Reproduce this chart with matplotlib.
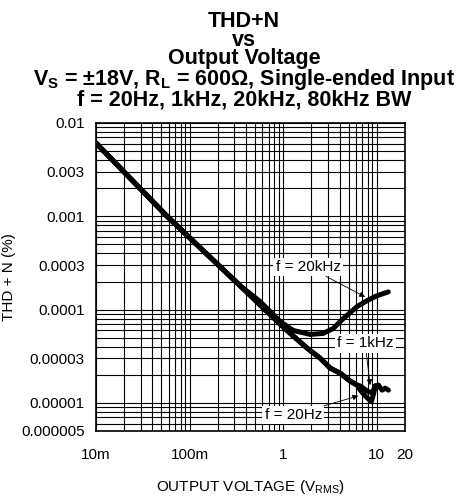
import matplotlib
matplotlib.use('Agg')
import matplotlib.pyplot as plt
import numpy as np

plt.rcParams['font.family'] = ['Liberation Sans', 'DejaVu Sans']
plt.rcParams['mathtext.fontset'] = 'custom'
plt.rcParams['mathtext.rm'] = 'Liberation Sans'
plt.rcParams['mathtext.bf'] = 'Liberation Sans:bold'

# THD+N (%) vs output voltage (Vrms)
v_20k = [0.01, 0.0575, 0.347, 0.567, 0.93, 1.28, 1.95, 2.68, 3.43, 4.38, 6.18, 7.9, 10.1, 13.3]
thd_20k = [0.0061, 0.001, 0.00018, 0.000122, 0.0000745, 0.0000598, 0.0000542, 0.0000556,
           0.0000628, 0.00008, 0.000108, 0.000125, 0.000141, 0.000155]

v_1k = [0.01, 0.0575, 0.347, 0.567, 0.93, 1.19, 1.81, 2.49, 3.18, 4.07, 5.21, 6.18, 6.66,
        7.9, 8.95, 9.64, 10.4, 11.4, 12.3, 13.3]
thd_1k = [0.0061, 0.001, 0.00018, 0.000112, 0.0000700, 0.0000556, 0.0000385, 0.0000301,
          0.0000236, 0.0000208, 0.0000171, 0.0000155, 0.0000152, 0.0000134, 0.0000128,
          0.0000152, 0.0000155, 0.0000137, 0.0000144, 0.0000137]

v_20 = [0.01, 0.0575, 0.347, 0.567, 0.93, 1.19, 1.81, 2.49, 3.18, 4.07, 5.21, 6.18, 6.66,
        7.53, 8.73, 9.19, 9.64, 10.4]
thd_20 = [0.0061, 0.001, 0.00018, 0.000112, 0.0000700, 0.0000556, 0.0000385, 0.0000301,
          0.0000236, 0.0000208, 0.0000171, 0.0000155, 0.0000137, 0.0000119, 0.0000103,
          0.0000122, 0.0000152, 0.0000155]

xticks = [0.01, 0.1, 1, 10, 20]
xlabels = ['10m', '100m', '1', '10', '20']
yticks = [0.01, 0.003, 0.001, 0.0003, 0.0001, 0.00003, 0.00001, 0.000005]
ylabels = ['0.01', '0.003', '0.001', '0.0003', '0.0001', '0.00003', '0.00001', '0.000005']

fig = plt.figure(figsize=(4.66, 5.0), dpi=100)
ax = fig.add_axes([0.206, 0.138, 0.663, 0.616])

ax.set_xscale('log')
ax.set_yscale('log')
ax.set_xlim(0.01, 20)
ax.set_ylim(0.000005, 0.01)

ax.grid(True, which='both', color='black', linewidth=0.8)
ax.set_axisbelow(True)

for v, t in [(v_20k, thd_20k), (v_1k, thd_1k), (v_20, thd_20)]:
    ax.plot(v, t, color='black', linewidth=3.6, solid_joinstyle='round', solid_capstyle='round')

ax.set_xticks(xticks)
ax.set_xticklabels(xlabels)
ax.set_yticks(yticks)
ax.set_yticklabels(ylabels)
ax.minorticks_on()
ax.xaxis.set_minor_formatter(matplotlib.ticker.NullFormatter())
ax.yaxis.set_minor_formatter(matplotlib.ticker.NullFormatter())
ax.tick_params(which='both', length=0, labelsize=11)
ax.tick_params(axis='x', pad=12)
ax.tick_params(axis='y', pad=8)
for s in ax.spines.values():
    s.set_linewidth(1.2)

ax.set_ylabel('THD + N (%)', fontsize=11, labelpad=4)
ax.set_xlabel(r'OUTPUT VOLTAGE ($\mathrm{V_{RMS}}$)', fontsize=11, labelpad=12)

box = dict(boxstyle='square,pad=0.15', facecolor='white', edgecolor='none')
arrow = dict(arrowstyle='-|>', color='black', lw=0.6, mutation_scale=8, shrinkA=0, shrinkB=0)
ax.annotate('f = 20kHz', xy=(7.5, 0.000137), xytext=(1.85, 0.000286),
            ha='center', va='center', fontsize=11, bbox=box, arrowprops=arrow)
ax.annotate('f = 1kHz', xy=(8.5, 0.0000155), xytext=(7.5, 0.0000435),
            ha='center', va='center', fontsize=11, bbox=box, arrowprops=arrow)
ax.annotate('f = 20Hz', xy=(6.34, 0.0000119), xytext=(1.28, 0.00000745),
            ha='center', va='center', fontsize=11, bbox=box, arrowprops=arrow)

title = '\n'.join(['THD+N', 'vs', 'Output Voltage',
                   r'$\mathbf{V_S}$ = ±18V, $\mathbf{R_L}$ = 600Ω, Single-ended Input',
                   'f = 20Hz, 1kHz, 20kHz, 80kHz BW'])
fig.text(0.524, 0.978, title, ha='center', va='top', multialignment='center',
         fontsize=15.5, fontweight='bold', linespacing=0.85)

fig.savefig('out.png', dpi=100)
